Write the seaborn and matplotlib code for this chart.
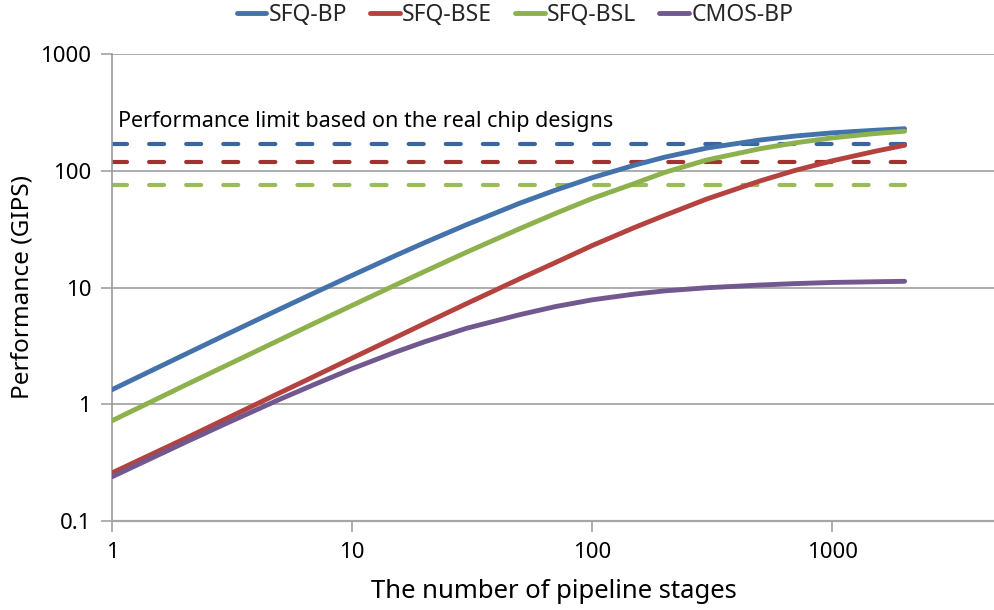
import numpy as np
import pandas as pd
import seaborn as sns
import matplotlib
matplotlib.use("Agg")
import matplotlib.pyplot as plt
from matplotlib.lines import Line2D

# ---- data ----
stages = [1, 2, 3, 5, 7, 10, 15, 20, 30, 50, 70, 100, 150, 200, 300, 500, 700, 1000, 1500, 2000]
sfq_bp = [1.33, 2.65, 3.96, 6.53, 9.04, 12.7, 18.6, 24.2, 34.6, 52.9, 68.2, 87.4, 112, 131, 157, 184, 199, 212, 223, 230]
sfq_bse = [0.257, 0.503, 0.752, 1.25, 1.74, 2.48, 3.69, 4.90, 7.28, 11.9, 16.3, 22.9, 32.7, 41.5, 57.4, 82.0, 101, 122, 147, 166]
sfq_bsl = [0.72, 1.44, 2.15, 3.56, 4.96, 7.02, 10.4, 13.7, 20.1, 32.0, 43.0, 58.0, 78.0, 97.0, 124, 155, 174, 192, 209, 219]
cmos_bp = [0.238, 0.466, 0.685, 1.10, 1.48, 2.01, 2.77, 3.42, 4.47, 5.85, 6.85, 7.84, 8.78, 9.35, 9.95, 10.5, 10.8, 11.05, 11.2, 11.3]

series_names = ["SFQ-BP", "SFQ-BSE", "SFQ-BSL", "CMOS-BP"]
limits = [170, 120, 76]          # dashed performance limits (SFQ-BP, SFQ-BSE, SFQ-BSL)
x_ticks = [1, 10, 100, 1000]
y_ticks = [0.1, 1, 10, 100, 1000]
y_tick_labels = ["0.1", "1", "10", "100", "1000"]

line_colors = ["#4472AA", "#B4433F", "#8DB14C", "#71588F"]
limit_colors = ["#3A66A0", "#A0332F", "#9BBB59"]

# ---- figure ----
sns.set_theme(style="white")
plt.rcParams["font.family"] = ["Noto Sans", "DejaVu Sans"]

W, H = 995, 610
fig = plt.figure(figsize=(W / 100, H / 100), dpi=100)
ax = fig.add_axes([112 / W, 1 - 520.7 / H, (W - 112) / W, (520.7 - 54.3) / H])

rows = []
for name, vals in zip(series_names, [sfq_bp, sfq_bse, sfq_bsl, cmos_bp]):
    for s, v in zip(stages, vals):
        rows.append({"stages": s, "perf": v, "series": name})
df = pd.DataFrame(rows)

sns.lineplot(data=df, x="stages", y="perf", hue="series", hue_order=series_names,
             palette=dict(zip(series_names, line_colors)), linewidth=3.5,
             legend=False, ax=ax, zorder=3)
for ln in ax.get_lines():
    ln.set_solid_capstyle("round")
    ln.set_solid_joinstyle("round")

for lim, col in zip(limits, limit_colors):
    ax.hlines(lim, stages[0], stages[-1], colors=col, linewidth=3.0,
              linestyles=(0, (3.6, 5.3)), capstyle="round", zorder=2)
for coll in ax.collections:
    coll.set_capstyle("round")

ax.set_xscale("log")
ax.set_yscale("log")
ax.set_xlim(1, 4760)
ax.set_ylim(0.1, 1000)
ax.set_xticks(x_ticks)
ax.set_xticklabels([str(t) for t in x_ticks])
ax.set_yticks(y_ticks)
ax.set_yticklabels(y_tick_labels)
ax.minorticks_off()

ax.yaxis.grid(True, color="#A6A6A6", linewidth=1.3)
ax.xaxis.grid(False)
ax.set_axisbelow(True)
for side in ["top", "right"]:
    ax.spines[side].set_visible(False)
ax.spines["left"].set_color("#9A9A9A")
ax.spines["left"].set_linewidth(1.2)
ax.spines["bottom"].set_color("#A6A6A6")
ax.spines["bottom"].set_linewidth(1.6)
ax.tick_params(axis="both", which="major", direction="out", length=8, width=1.1,
               color="#9A9A9A", labelsize=16, labelcolor="black", pad=7,
               bottom=True, left=True)

ax.set_xlabel("The number of pipeline stages", fontsize=18.5, color="black", labelpad=12)
ax.set_ylabel("Performance (GIPS)", fontsize=17.5, color="black", labelpad=4)

ax.text(1.055, 265, "Performance limit based on the real chip designs",
        fontsize=15.5, color="black", va="center", ha="left")

handles = [Line2D([0], [0], color=c, lw=3.5, solid_capstyle="round") for c in line_colors]
fig.legend(handles, series_names, loc="center", bbox_to_anchor=(515 / W, 1 - 15 / H),
           ncol=4, frameon=False, fontsize=16.5, handlelength=1.3, handletextpad=0.1,
           columnspacing=1.0, borderaxespad=0)

fig.savefig("out.png", dpi=100)
